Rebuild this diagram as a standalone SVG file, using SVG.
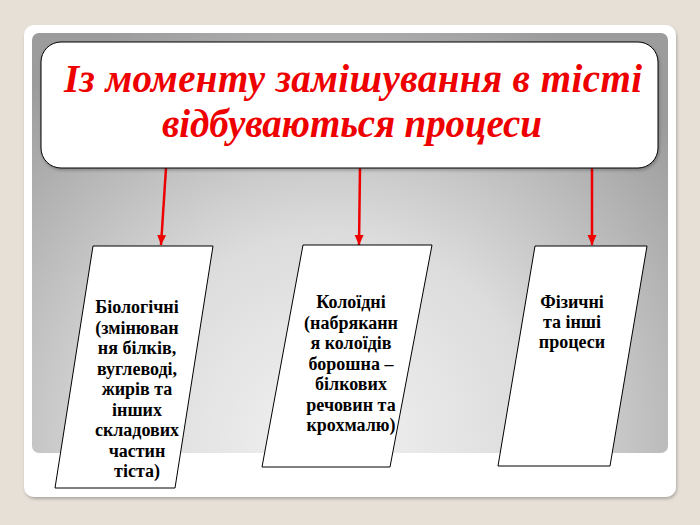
<svg xmlns="http://www.w3.org/2000/svg" width="700" height="525" viewBox="0 0 700 525">
<style>
.node{fill:#ffffff;stroke:#000000;stroke-width:1}
.lbl{font-family:'Liberation Serif','Times New Roman',serif;font-weight:bold;font-size:18px;fill:#000000;text-anchor:middle}
.title{font-family:'Liberation Serif','Times New Roman',serif;font-weight:bold;font-style:italic;font-size:39px;fill:#ee0000;text-anchor:middle}
.conn{stroke:#ee0000;stroke-width:2.5;fill:none;marker-end:url(#ah)}
</style>
<defs>
<marker id="ah" markerUnits="userSpaceOnUse" markerWidth="10" markerHeight="10" viewBox="0 0 10 10" refX="10" refY="5" orient="auto">
<path d="M0,0.5 L10,5 L0,9.5 Z" fill="#ee0000"/>
</marker>
<radialGradient id="panelG" gradientUnits="userSpaceOnUse" cx="330" cy="440" r="460">
<stop offset="0" stop-color="#f2f2f2"/>
<stop offset="0.45" stop-color="#dcdcdc"/>
<stop offset="1" stop-color="#9c9c9c"/>
</radialGradient>
<filter id="sh" x="-5%" y="-5%" width="110%" height="110%">
<feDropShadow dx="1" dy="2" stdDeviation="1.5" flood-color="#000" flood-opacity="0.25"/>
</filter>
</defs>
<rect x="0" y="0" width="700" height="525" fill="#e6e0d7"/>
<rect x="24" y="25" width="652" height="472" rx="10" fill="#ffffff" filter="url(#sh)"/>
<rect x="32" y="33" width="636" height="420" rx="7" fill="url(#panelG)"/>
<g id="connectors">
<line class="conn" x1="166" y1="168" x2="161" y2="245"/>
<line class="conn" x1="360" y1="168" x2="359" y2="245"/>
<line class="conn" x1="592" y1="168" x2="592" y2="245"/>
</g>
<g id="title">
<rect class="node" x="41" y="42" width="617" height="126" rx="20" filter="url(#sh)"/>
<text class="title" x="353" y="92" textLength="578" lengthAdjust="spacing">Із моменту замішування в тісті</text>
<text class="title" x="352" y="137" textLength="380" lengthAdjust="spacing">відбуваються процеси</text>
</g>
<g id="biological">
<polygon class="node" points="93,246 213,246 175,488 55,488"/>
<text class="lbl" x="137" y="313">Біологічні</text>
<text class="lbl" x="137" y="333.5">(змінюван</text>
<text class="lbl" x="137" y="354">ня білків,</text>
<text class="lbl" x="137" y="374.5">вуглеводі,</text>
<text class="lbl" x="137" y="395">жирів та</text>
<text class="lbl" x="137" y="415.5">інших</text>
<text class="lbl" x="137" y="436">складових</text>
<text class="lbl" x="137" y="456.5">частин</text>
<text class="lbl" x="137" y="477">тіста)</text>
</g>
<g id="colloidal">
<polygon class="node" points="303,245 432,245 390,467 262,467"/>
<text class="lbl" x="351" y="308">Колоїдні</text>
<text class="lbl" x="351" y="328.5">(набряканн</text>
<text class="lbl" x="351" y="349">я колоїдів</text>
<text class="lbl" x="351" y="369.5">борошна –</text>
<text class="lbl" x="351" y="390">білкових</text>
<text class="lbl" x="351" y="410.5">речовин та</text>
<text class="lbl" x="351" y="431">крохмалю)</text>
</g>
<g id="physical">
<polygon class="node" points="535,246 647,246 610,466 498,466"/>
<text class="lbl" x="572" y="308">Фізичні</text>
<text class="lbl" x="572" y="328">та інші</text>
<text class="lbl" x="572" y="348">процеси</text>
</g>
</svg>
